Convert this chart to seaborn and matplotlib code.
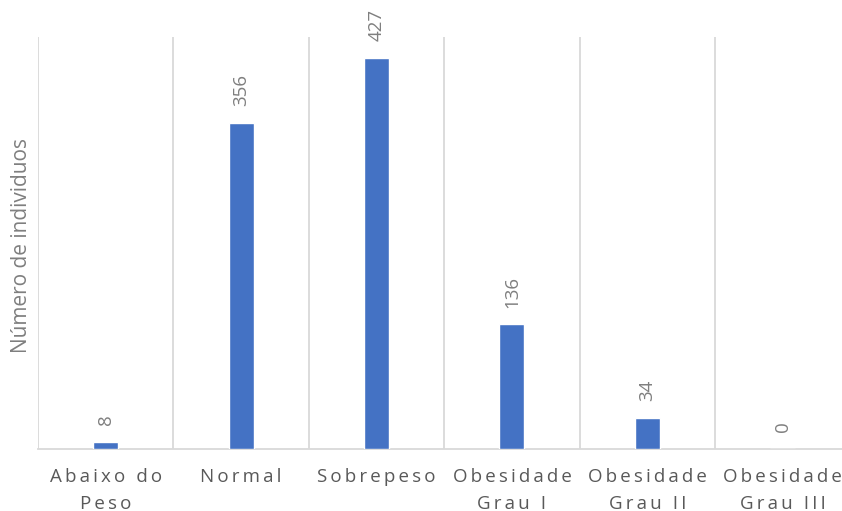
import matplotlib
matplotlib.use("Agg")
import matplotlib.pyplot as plt
from matplotlib import font_manager as fm
import seaborn as sns
import pandas as pd

# BMI class counts
categories = ["Abaixo do\nPeso", "Normal", "Sobrepeso", "Obesidade\nGrau I",
              "Obesidade\nGrau II", "Obesidade\nGrau III"]
counts = [8, 356, 427, 136, 34, 0]
y_label = "Número de individuos"

BAR = "#4472C4"
GRID = "#D9D9D9"
TICK_TXT = "#595959"
SOFT_TXT = "#7F7F7F"

sns.set_theme(style="white")


def upright_font(family):
    """Path of an upright, regular-weight file of the given family."""
    cands = [f for f in fm.fontManager.ttflist
             if f.name == family and f.style == "normal"
             and "italic" not in f.fname.lower()
             and "oblique" not in f.fname.lower()]
    if not cands:
        return None
    cands.sort(key=lambda f: abs((f.weight if isinstance(f.weight, int) else 400) - 400))
    return cands[0].fname


path = upright_font("Open Sans") or upright_font("Noto Sans")
if path:
    # register the chosen file under a unique alias so the lookup is unambiguous
    entry = fm.FontEntry(fname=path, name="ChartSans", style="normal",
                         variant="normal", weight=400, stretch="normal")
    fm.fontManager.ttflist.insert(0, entry)
    plt.rcParams["font.family"] = ["ChartSans", "DejaVu Sans"]
else:
    plt.rcParams["font.family"] = ["DejaVu Sans"]


def tracked(label, gap="\u2009"):
    """Spread letters out with thin spaces (wide character tracking)."""
    lines = []
    for line in label.split("\n"):
        words = [gap.join(w) for w in line.split(" ")]
        lines.append((gap * 2 + " ").join(words))
    return "\n".join(lines)


df = pd.DataFrame({"categoria": categories, "n": counts})

fig = plt.figure(figsize=(8.42, 5.11), dpi=100)
ax = fig.add_axes([38 / 842, 62 / 511, 812.5 / 842, 412 / 511])

sns.barplot(data=df, x="categoria", y="n", color=BAR, saturation=1,
            width=0.185, ax=ax, zorder=3)

ax.set_xlim(-0.5, len(categories) - 0.5)
ax.set_ylim(0, 450)
ax.set_yticks([])

# category separators as vertical gridlines
ax.set_xticks([i + 0.5 for i in range(-1, len(categories))], minor=True)
ax.grid(which="minor", axis="x", color=GRID, linewidth=1.3, zorder=0)
ax.grid(which="major", visible=False)
ax.tick_params(axis="x", which="both", length=0, pad=14)
ax.set_xticks(range(len(categories)))
ax.set_xticklabels([tracked(c) for c in categories], fontsize=13.5,
                   color=TICK_TXT, linespacing=1.58)

for side in ("top", "right", "left"):
    ax.spines[side].set_visible(False)
ax.spines["bottom"].set_color(GRID)
ax.spines["bottom"].set_linewidth(1.3)

ax.set_xlabel("")
ax.set_ylabel(y_label, fontsize=15, color=SOFT_TXT)
ax.yaxis.set_label_coords(-16.5 / 812.5, 0.495)
ax.yaxis.label.set_va("center")

for i, v in enumerate(counts):
    ax.annotate(str(v), (i, v), xytext=(0, 12), textcoords="offset points",
                rotation=90, ha="center", va="bottom", fontsize=13.5,
                color=SOFT_TXT)

fig.savefig("out.png", dpi=100)
